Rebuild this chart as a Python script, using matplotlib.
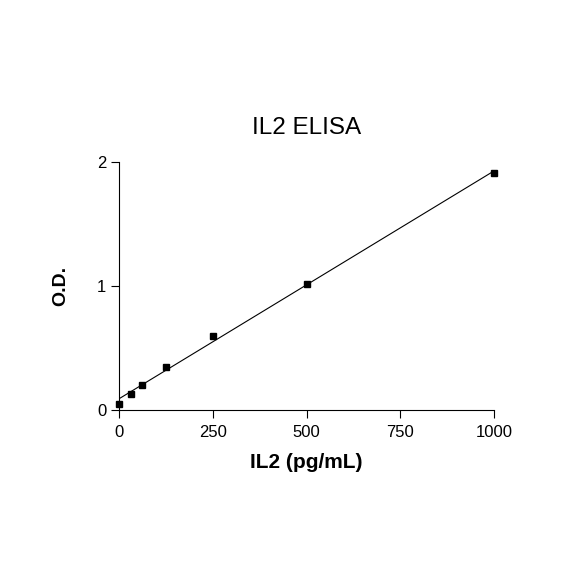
import numpy as np
import matplotlib
matplotlib.use("Agg")
import matplotlib.pyplot as plt

plt.rcParams['font.family'] = ['Liberation Sans', 'DejaVu Sans']

# standard curve
conc = [0, 31.25, 62.5, 125, 250, 500, 1000]
od = [0.05, 0.13, 0.20, 0.345, 0.60, 1.015, 1.91]
x_ticks = [0, 250, 500, 750, 1000]
y_ticks = [0, 1, 2]

fig = plt.figure(figsize=(5.84, 5.84), dpi=100)
ax = fig.add_axes([119 / 584, 1 - 410 / 584, 375 / 584, 248 / 584])

slope, intercept = np.polyfit(conc, od, 1)
xs = np.array([0, 1000])
ax.plot(xs, slope * xs + intercept, color='black', lw=0.8)
ax.plot(conc, od, linestyle='none', marker='s', markersize=4.5, color='black',
        clip_on=False, zorder=3)

ax.set_xlim(0, 1000)
ax.set_ylim(0, 2)
ax.set_xticks(x_ticks)
ax.set_yticks(y_ticks)
ax.spines['top'].set_visible(False)
ax.spines['right'].set_visible(False)
ax.tick_params(direction='out', length=6, width=0.8, labelsize=12, pad=3)
ax.tick_params(axis='x', pad=4.5)
for s in ['left', 'bottom']:
    ax.spines[s].set_linewidth(0.8)

ax.set_title("IL2 ELISA", fontsize=17.5, pad=20)
ax.set_xlabel("IL2 (pg/mL)", fontsize=15, fontweight='bold', labelpad=10)
ax.set_ylabel("O.D.", fontsize=14, fontweight='bold', labelpad=20)

fig.savefig("out.png", dpi=100)
plt.close(fig)
